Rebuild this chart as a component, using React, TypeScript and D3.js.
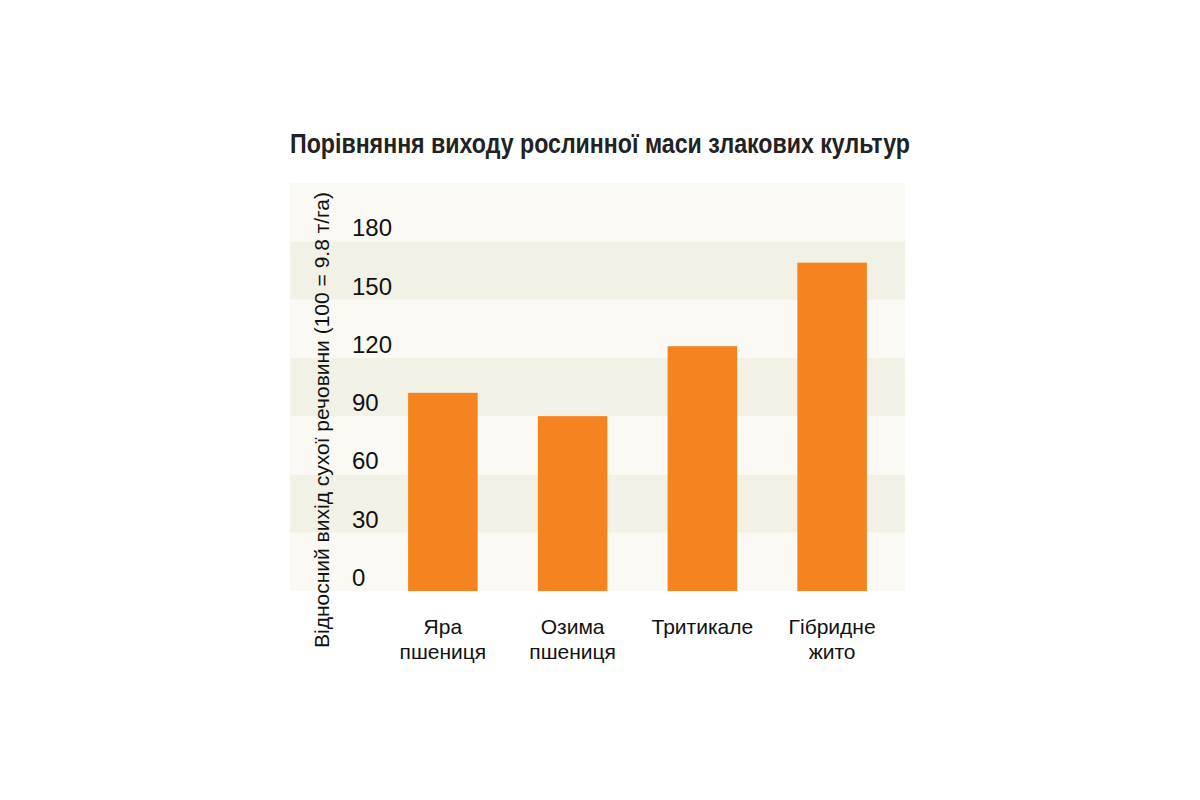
import React from "react";
import * as d3 from "d3";

const categories: string[][] = [
  ["Яра", "пшениця"],
  ["Озима", "пшениця"],
  ["Тритикале"],
  ["Гібридне", "жито"],
];
const values: number[] = [102, 90, 126, 169];
const tickValues: number[] = [0, 30, 60, 90, 120, 150, 180];
const title = "Порівняння виходу рослинної маси злакових культур";
const yLabel = "Відносний вихід сухої речовини (100 = 9.8 т/га)";

const W = 1200;
const H = 800;
const plotLeft = 290;
const plotRight = 905;
const plotTop = 183;
const plotBottom = 591;

export default function App() {
  const y = d3.scaleLinear().domain([0, 210]).range([plotBottom, plotTop]);
  const x = d3
    .scaleBand<number>()
    .domain(d3.range(categories.length))
    .range([378, 897])
    .paddingInner(0.464)
    .paddingOuter(0.232);

  const bands = d3.range(0, 210, 30);
  const font = "'Liberation Sans', Arial, Helvetica, sans-serif";

  return (
    <svg
      width={W}
      height={H}
      style={{ position: "absolute", left: 0, top: 0, background: "#fff" }}
      fontFamily={font}
    >
      <rect x={0} y={0} width={W} height={H} fill="#fff" />
      {bands.map((b, i) => (
        <rect
          key={b}
          x={plotLeft}
          width={plotRight - plotLeft}
          y={y(b + 30)}
          height={y(b) - y(b + 30)}
          fill={i % 2 === 1 ? "#f2f1e6" : "#faf9f4"}
        />
      ))}
      {values.map((v, i) => (
        <rect
          key={i}
          x={x(i)}
          width={x.bandwidth()}
          y={y(v)}
          height={y(0) - y(v)}
          fill="#f58420"
        />
      ))}
      {tickValues.map((t) => (
        <text key={t} x={352} y={y(t) - 5} fontSize={24} fill="#111">
          {t}
        </text>
      ))}
      <text
        transform={`translate(329, 420) rotate(-90)`}
        textAnchor="middle"
        fontSize={21}
        fill="#111"
      >
        {yLabel}
      </text>
      <text
        x={290}
        y={153}
        fontSize={27}
        fontWeight="bold"
        fill="#222"
        textLength={620}
        lengthAdjust="spacingAndGlyphs"
      >
        {title}
      </text>
      {categories.map((lines, i) => (
        <text
          key={i}
          x={(x(i) as number) + x.bandwidth() / 2}
          y={634}
          textAnchor="middle"
          fontSize={21}
          fill="#111"
        >
          {lines.map((l, j) => (
            <tspan key={j} x={(x(i) as number) + x.bandwidth() / 2} dy={j === 0 ? 0 : 25}>
              {l}
            </tspan>
          ))}
        </text>
      ))}
    </svg>
  );
}
